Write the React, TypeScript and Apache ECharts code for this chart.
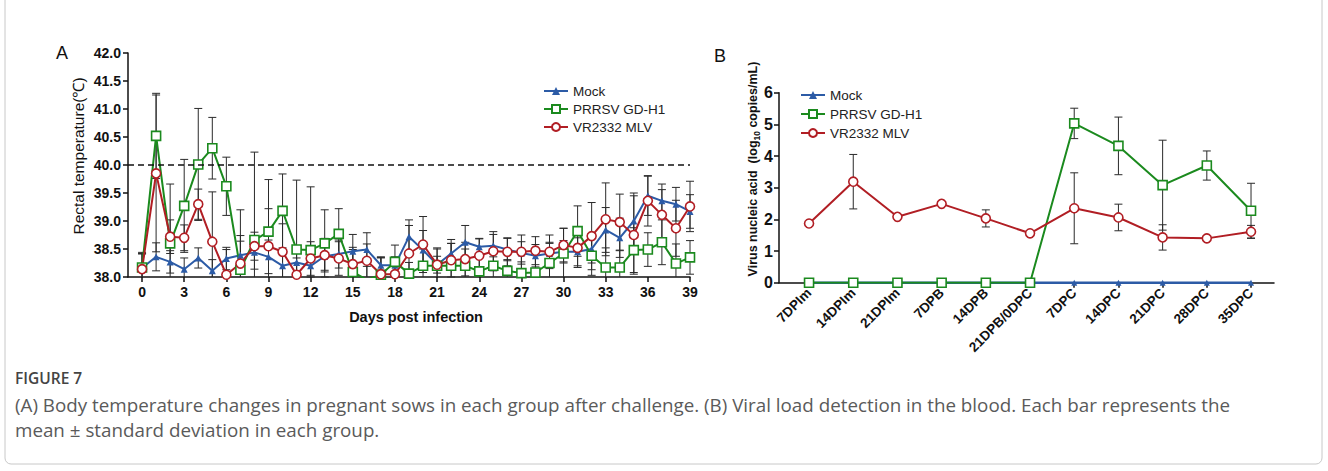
import React, { useEffect, useRef } from "react";
import * as echarts from "echarts";

// ---------- Panel A data ----------
const days: number[] = Array.from({ length: 40 }, (_, i) => i);
const xTicksA = [0, 3, 6, 9, 12, 15, 18, 21, 24, 27, 30, 33, 36, 39];

const mockA = [38.16, 38.36, 38.27, 38.14, 38.34, 38.11, 38.33, 38.39, 38.44, 38.36, 38.20, 38.26, 38.20, 38.37, 38.41, 38.46, 38.49, 38.21, 38.21, 38.72, 38.48, 38.22, 38.42, 38.62, 38.54, 38.56, 38.49, 38.43, 38.38, 38.42, 38.45, 38.45, 38.50, 38.84, 38.70, 39.00, 39.45, 39.36, 39.30, 39.17];
const gdh1A = [38.17, 40.52, 38.60, 39.27, 40.01, 40.30, 39.62, 38.13, 38.66, 38.81, 39.18, 38.49, 38.48, 38.60, 38.77, 38.09, 37.95, 38.04, 38.27, 38.06, 38.20, 38.20, 38.20, 38.20, 38.10, 38.20, 38.11, 38.07, 38.08, 38.25, 38.42, 38.82, 38.38, 38.17, 38.17, 38.48, 38.49, 38.62, 38.24, 38.35];
const vrA = [38.14, 39.85, 38.72, 38.70, 39.30, 38.63, 38.04, 38.24, 38.55, 38.55, 38.45, 38.04, 38.33, 38.39, 38.33, 38.23, 38.29, 38.05, 38.05, 38.42, 38.58, 38.22, 38.30, 38.32, 38.38, 38.46, 38.45, 38.45, 38.47, 38.45, 38.57, 38.52, 38.73, 39.03, 38.98, 38.75, 39.36, 39.11, 38.87, 39.26];

const mockSdA = [0.25, 0.25, 0.2, 0.2, 0.18, 0.2, 0.2, 0.25, 0.3, 0.3, 0.25, 0.2, 0.2, 0.25, 0.25, 0.3, 0.3, 0.15, 0.15, 0.3, 0.35, 0.15, 0.25, 0.3, 0.15, 0.2, 0.2, 0.2, 0.2, 0.2, 0.2, 0.25, 0.25, 0.4, 0.35, 0.5, 0.35, 0.3, 0.3, 0.3];
const gdh1SdA = [0.25, 0.76, 1.06, 0.83, 1.0, 0.55, 0.52, 1.07, 1.57, 0.93, 0.66, 1.24, 1.13, 0.6, 0.45, 0.4, 0.3, 0.3, 0.3, 0.2, 0.3, 0.3, 0.4, 0.3, 0.3, 0.3, 0.2, 0.2, 0.35, 0.35, 0.45, 0.45, 0.35, 0.35, 0.3, 0.4, 0.3, 0.4, 0.35, 0.3];
const vrSdA = [0.3, 1.4, 0.3, 0.23, 0.27, 0.89, 0.45, 0.5, 0.25, 0.67, 0.5, 0.3, 0.3, 0.3, 0.3, 0.3, 0.3, 0.3, 0.3, 0.5, 0.5, 0.3, 0.3, 0.3, 0.3, 0.35, 0.25, 0.3, 0.25, 0.3, 0.3, 0.35, 0.6, 0.65, 0.5, 0.7, 0.45, 0.45, 0.5, 0.45];

const thresholdA = 40.0;

// ---------- Panel B data ----------
const catsB = ["7DPIm", "14DPIm", "21DPIm", "7DPB", "14DPB", "21DPB/0DPC", "7DPC", "14DPC", "21DPC", "28DPC", "35DPC"];
const mockB = [0, 0, 0, 0, 0, 0, 0, 0, 0, 0, 0];
const gdh1B = [0, 0, 0, 0, 0, 0, 5.03, 4.32, 3.08, 3.70, 2.27];
const vrB = [1.87, 3.19, 2.08, 2.49, 2.03, 1.56, 2.35, 2.06, 1.43, 1.40, 1.61];
const gdh1SdB = [0, 0, 0, 0, 0, 0, 0.48, 0.91, 1.42, 0.46, 0.87];
const vrSdB = [0, 0.86, 0, 0, 0.27, 0, 1.12, 0.42, 0.40, 0, 0.2];

const names = ["Mock", "PRRSV GD-H1", "VR2332 MLV"];
const BLUE = "#2c5ba6";
const GREEN = "#1b8a1e";
const RED = "#b11e24";
const FONT = "'Liberation Sans', Arial, sans-serif";
const CAPFONT = "'Open Sans', sans-serif";

function errRender(params: any, api: any) {
  const x = api.value(0);
  const lo = api.value(1);
  const hi = api.value(2);
  if (hi === lo) return null;
  const cs = params.coordSys;
  const p1 = api.coord([x, hi]);
  const p2 = api.coord([x, lo]);
  const top = Math.max(p1[1], cs.y);
  const bot = Math.min(p2[1], cs.y + cs.height);
  const w = 4;
  const st = { stroke: "#2a2a2a", lineWidth: 1 };
  const ch: any[] = [
    { type: "line", shape: { x1: p1[0], y1: top, x2: p1[0], y2: bot }, style: st },
  ];
  if (p1[1] >= cs.y) ch.push({ type: "line", shape: { x1: p1[0] - w, y1: p1[1], x2: p1[0] + w, y2: p1[1] }, style: st });
  if (p2[1] <= cs.y + cs.height) ch.push({ type: "line", shape: { x1: p2[0] - w, y1: p2[1], x2: p2[0] + w, y2: p2[1] }, style: st });
  return { type: "group", children: ch };
}

function errSeries(xi: number, xs: number[], mean: number[], sd: number[]) {
  return {
    type: "custom",
    xAxisIndex: xi,
    yAxisIndex: xi,
    silent: true,
    z: 1,
    data: xs.map((x, i) => [x, mean[i] - sd[i], mean[i] + sd[i]]),
    encode: { x: 0, y: [1, 2] },
    renderItem: errRender,
  };
}

function lineSeries(name: string, xi: number, xs: number[], vals: number[], kind: number, extra: any = {}) {
  const color = [BLUE, GREEN, RED][kind];
  const symbol = ["triangle", "rect", "circle"][kind];
  const size = [7, 9, 9][kind];
  return {
    type: "line",
    name,
    xAxisIndex: xi,
    yAxisIndex: xi,
    z: 3,
    data: xs.map((x, i) => [x, vals[i]]),
    symbol,
    symbolSize: size,
    showSymbol: true,
    lineStyle: { color, width: 2 },
    itemStyle: kind === 0 ? { color } : { color: "#fff", borderColor: color, borderWidth: 1.6 },
    emphasis: { disabled: true },
    ...extra,
  };
}

export default function App() {
  const ref = useRef<HTMLDivElement>(null);
  useEffect(() => {
    if (!ref.current) return;
    const chart = echarts.init(ref.current, null, { renderer: "svg" });
    const idxB = catsB.map((_, i) => i);
    const axisLine = { lineStyle: { color: "#111", width: 1.5 } };
    const legendBase = {
      orient: "vertical",
      itemWidth: 24,
      itemHeight: 10,
      data: names,
      textStyle: { fontSize: 13.5, color: "#222", fontFamily: FONT },
      selectedMode: false,
    };
    const option: any = {
      animation: false,
      textStyle: { fontFamily: FONT },
      grid: [
        { left: 128, right: 638, top: 53, bottom: 194 },
        { left: 779, right: 54, top: 92.7, bottom: 188.3 },
      ],
      xAxis: [
        {
          gridIndex: 0,
          type: "value",
          min: -1,
          max: 39,
          axisLine,
          axisTick: { customValues: xTicksA, length: 5, lineStyle: { color: "#111", width: 1.5 } },
          axisLabel: { customValues: xTicksA, fontWeight: "bold", fontSize: 14, color: "#111", margin: 8, fontFamily: FONT },
          splitLine: { show: false },
        },
        {
          gridIndex: 1,
          type: "value",
          min: -0.68,
          max: 10.52,
          axisLine: { lineStyle: { color: "#111", width: 1.5 } },
          axisTick: { customValues: idxB, length: 5, lineStyle: { color: "#111", width: 1.5 } },
          axisLabel: {
            customValues: idxB,
            formatter: (v: number) => catsB[Math.round(v)] ?? "",
            rotate: 45,
            fontWeight: "bold",
            fontSize: 13.5,
            color: "#111",
            margin: 8,
            fontFamily: FONT,
          },
          splitLine: { show: false },
        },
      ],
      yAxis: [
        {
          gridIndex: 0,
          type: "value",
          min: 38,
          max: 42,
          interval: 0.5,
          axisLine: { show: true, onZero: false, lineStyle: { color: "#111", width: 1.5 } },
          axisTick: { show: true, length: 5, lineStyle: { color: "#111", width: 1.5 } },
          axisLabel: { formatter: (v: number) => v.toFixed(1), fontWeight: "bold", fontSize: 14, color: "#111", margin: 7, fontFamily: FONT },
          splitLine: { show: false },
        },
        {
          gridIndex: 1,
          type: "value",
          min: 0,
          max: 6,
          interval: 1,
          axisLine: { show: true, onZero: false, lineStyle: { color: "#111", width: 1.5 } },
          axisTick: { show: true, length: 5, lineStyle: { color: "#111", width: 1.5 } },
          axisLabel: { fontWeight: "bold", fontSize: 16, color: "#111", margin: 6, fontFamily: FONT },
          splitLine: { show: false },
        },
      ],
      legend: [
        { ...legendBase, left: 538, top: 79, itemGap: 4 },
        { ...legendBase, left: 795, top: 83, itemGap: 5 },
      ],
      series: [
        errSeries(0, days, mockA, mockSdA),
        errSeries(0, days, gdh1A, gdh1SdA),
        errSeries(0, days, vrA, vrSdA),
        lineSeries(names[0], 0, days, mockA, 0, {
          markLine: {
            silent: true,
            symbol: "none",
            label: { show: false },
            lineStyle: { type: [6, 4], color: "#111", width: 1.5 },
            data: [{ yAxis: thresholdA }],
          },
        }),
        lineSeries(names[1], 0, days, gdh1A, 1),
        lineSeries(names[2], 0, days, vrA, 2),
        errSeries(1, idxB, gdh1B, gdh1SdB),
        errSeries(1, idxB, vrB, vrSdB),
        lineSeries(names[0], 1, idxB, mockB, 0, { symbolSize: 6, lineStyle: { color: BLUE, width: 2.5 } }),
        lineSeries(names[1], 1, idxB, gdh1B, 1),
        lineSeries(names[2], 1, idxB, vrB, 2),
      ],
      graphic: [
        {
          type: "rect",
          shape: { x: 5, y: -10, width: 1317, height: 474, r: 6 },
          style: { fill: "none", stroke: "#c8c8c8", lineWidth: 1 },
          silent: true,
        },
        { type: "text", x: 56, y: 44, style: { text: "A", fontSize: 18, fill: "#111", fontFamily: FONT } },
        { type: "text", x: 714, y: 47, style: { text: "B", fontSize: 18, fill: "#111", fontFamily: FONT } },
        {
          type: "text",
          x: 78,
          y: 156,
          rotation: Math.PI / 2,
          style: { text: "Rectal temperature(℃)", fontSize: 15.5, fill: "#111", fontFamily: FONT, align: "center", verticalAlign: "middle" },
        },
        {
          type: "text",
          x: 416,
          y: 317,
          style: { text: "Days post infection", fontSize: 14.5, fontWeight: "bold", fill: "#111", fontFamily: FONT, align: "center", verticalAlign: "middle" },
        },
        {
          type: "text",
          x: 753,
          y: 169,
          rotation: Math.PI / 2,
          style: {
            text: "{a|Virus nucleic acid  (log}{s|10}{a| copies/mL)}",
            align: "center",
            verticalAlign: "middle",
            rich: {
              a: { fontSize: 12.5, fontWeight: "bold", fill: "#111", fontFamily: FONT, lineHeight: 16 },
              s: { fontSize: 8.5, fontWeight: "bold", fill: "#111", fontFamily: FONT, lineHeight: 16, verticalAlign: "bottom", padding: [5, 0, 0, 0] },
            },
          },
        },
        {
          type: "text",
          x: 15,
          y: 378,
          style: { text: "FIGURE 7", fontSize: 15.5, fontWeight: 600, fill: "#444", fontFamily: CAPFONT, verticalAlign: "middle" },
        },
        {
          type: "text",
          x: 15,
          y: 405,
          style: {
            text: "(A) Body temperature changes in pregnant sows in each group after challenge. (B) Viral load detection in the blood. Each bar represents the",
            fontSize: 18.8,
            fill: "#5a5a5a",
            fontFamily: CAPFONT,
            verticalAlign: "middle",
          },
        },
        {
          type: "text",
          x: 15,
          y: 430,
          style: {
            text: "mean ± standard deviation in each group.",
            fontSize: 18.8,
            fill: "#5a5a5a",
            fontFamily: CAPFONT,
            verticalAlign: "middle",
          },
        },
      ],
    };
    chart.setOption(option);
    return () => chart.dispose();
  }, []);
  return (
    <div
      ref={ref}
      style={{ position: "fixed", left: 0, top: 0, width: 1328, height: 471, background: "#fff" }}
    />
  );
}
